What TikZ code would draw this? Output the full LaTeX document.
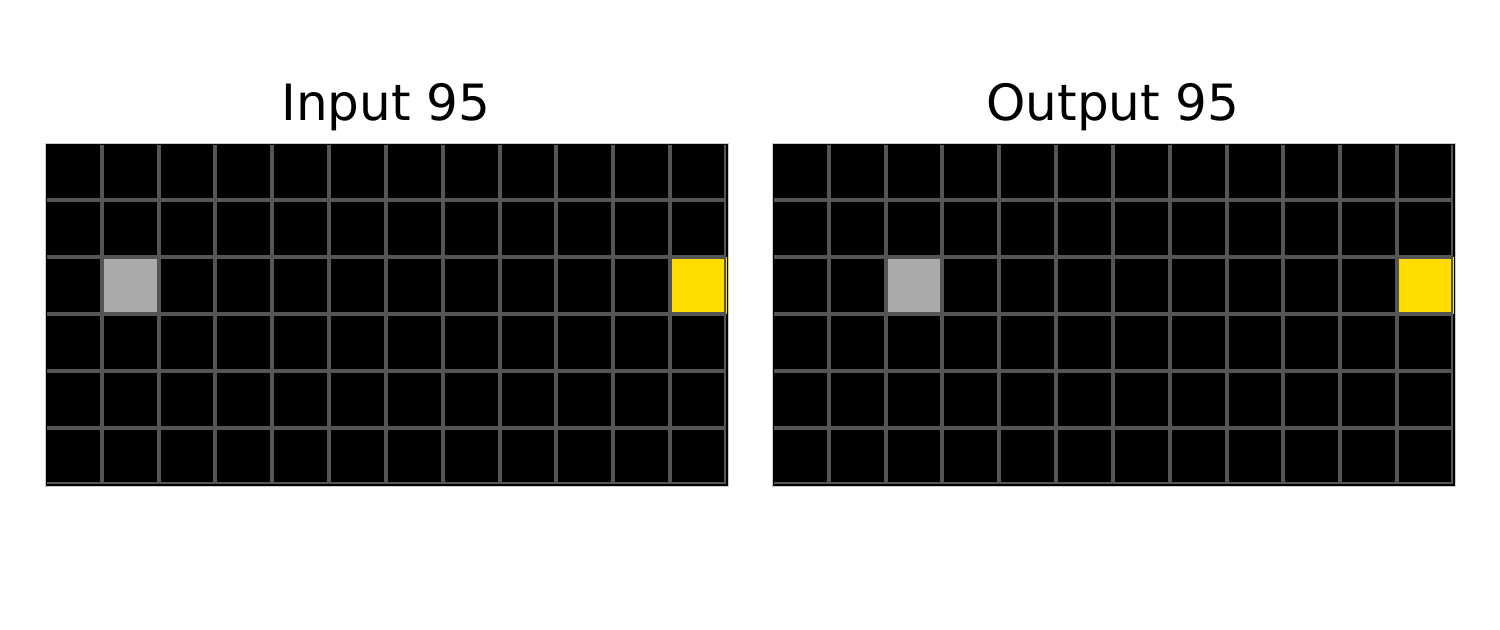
\documentclass[tikz,border=0pt]{standalone}
\usepackage{fontspec}
\setmainfont{DejaVu Sans}
\definecolor{arcgrid}{HTML}{555555}
\definecolor{arcgray}{HTML}{AAAAAA}
\definecolor{arcyellow}{HTML}{FFDC00}
\tikzset{
  cellgrid/.style={draw=arcgrid,line width=2pt},
  celledge/.style={draw=arcgrid,line width=0.6pt},
  panelframe/.style={draw=black!20,line width=0.4pt},
  paneltitle/.style={font=\fontsize{25}{30}\selectfont,anchor=base}
}

\begin{document}
\begin{tikzpicture}[x=0.5pt,y=-0.5pt]
  \useasboundingbox (0,0) rectangle (1500,629);
  \foreach \ox/\gc/\name/\txt in {45/1/in/Input 95,772/2/out/Output 95}{
    % board: 12 columns x 6 rows
    \fill[black] (\ox,143) rectangle ++(683,343);
    \fill[arcgray] ({\ox+\gc*56.83},257) rectangle ++(56.83,57);
    \fill[arcyellow] ({\ox+11*56.83},257) rectangle ++(56.83,57);
    \foreach \i in {1,...,11}
      \draw[cellgrid] ({\ox+\i*56.83},145) -- ({\ox+\i*56.83},483);
    \foreach \j in {1,...,5}
      \draw[cellgrid] ({\ox+2},{143+\j*57}) -- ({\ox+680},{143+\j*57});
    \draw[celledge] ({\ox+680},145) -- ({\ox+680},483) -- ({\ox+2},483);
    \draw[panelframe] (\ox,143) rectangle ++(683,343);
    \node[paneltitle] (\name-title) at ({\ox+341},120) {\txt};
  }
\end{tikzpicture}
\end{document}
